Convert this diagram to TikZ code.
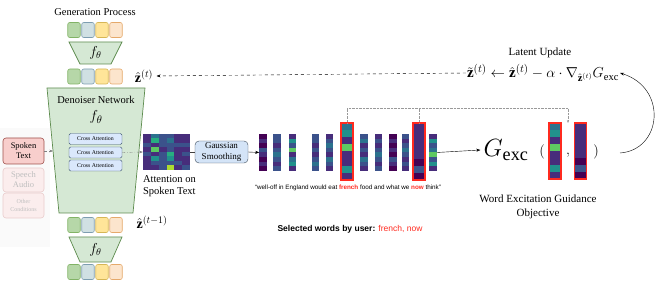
\documentclass[tikz,border=0pt]{standalone}
\usepackage{amsmath,amssymb}
\usepackage{fontspec}
\setmainfont{Liberation Serif}
\setsansfont{Liberation Sans}
\usepackage{xcolor}
\usepackage{tikz}
\usetikzlibrary{positioning, arrows.meta, calc}
\definecolor{clrG}     {HTML}{B6D7A8}
\definecolor{clrGD}    {HTML}{82B366}
\definecolor{clrB}     {HTML}{D0E0E3}
\definecolor{clrBD}    {HTML}{7D9DB0}
\definecolor{clrY}     {HTML}{FFE599}
\definecolor{clrYD}    {HTML}{D6B656}
\definecolor{clrP}     {HTML}{FCE5CD}
\definecolor{clrPD}    {HTML}{E5A96B}
\definecolor{clrTrap}  {HTML}{D5E8D4}
\definecolor{clrTrapD} {HTML}{5E8C4F}
\definecolor{clrCa}    {HTML}{DAE8FC}
\definecolor{clrCaD}   {HTML}{3F5770}
\definecolor{clrSp}    {HTML}{F8CECC}
\definecolor{clrSpD}   {HTML}{A0504C}
\definecolor{clrFade}  {HTML}{FBEDED}
\definecolor{clrFadeD} {HTML}{E9CBCB}
\definecolor{clrGs}    {HTML}{D4E4F7}
\definecolor{clrGsD}   {HTML}{3C4A5A}
\definecolor{clrRed}   {HTML}{FF2A1F}
\definecolor{vir0}{HTML}{440154}
\definecolor{vir1}{HTML}{472D7B}
\definecolor{vir2}{HTML}{3B528B}
\definecolor{vir3}{HTML}{2C728E}
\definecolor{vir4}{HTML}{21918C}
\definecolor{vir5}{HTML}{28AE80}
\definecolor{vir6}{HTML}{5EC962}
\definecolor{vir7}{HTML}{ADDC30}
\newcommand{\fsz}[2]{\fontsize{#1}{#2}\selectfont}
% name, x, y, width, height, colours top to bottom
\newcommand{\wordbar}[6]{%
  \node[inner sep=0pt, outer sep=0pt, minimum width=#4pt, minimum height=#5pt] (#1) at (#2,#3) {};
  \foreach \c [count=\k] in {#6}
    \fill[vir\c] ({#2-#4/2},{#3-#5/2+(\k-1)*#5/8}) rectangle ++(#4,#5/8);
}

\begin{document}
\begin{tikzpicture}[x=1pt, y=-1pt,
  sq/.style={rounded corners=2pt, minimum width=12.5pt, minimum height=15pt,
             inner sep=0pt, line width=0.6pt},
  trap/.style={draw=clrTrapD, fill=clrTrap, line width=0.7pt},
  cabox/.style={draw=clrCaD, fill=clrCa, rounded corners=1.5pt,
                minimum width=53pt, minimum height=11pt, inner sep=0pt,
                font=\fsz{5.8}{7}},
  cond/.style={rounded corners=3pt, minimum width=41pt, inner sep=0pt,
               align=center, line width=0.6pt},
  arr/.style={-{Stealth[length=4pt]}, thin},
  gdash/.style={dash dot, gray, -{Stealth[length=3.5pt]}, thin},
  dots/.style={densely dotted, gray!80},
  hl/.style={draw=clrRed, line width=1.1pt},
  lbl/.style={font=\fsz{10.5}{12.5}},
]
\useasboundingbox (0,0) rectangle (664,283);
\fill[black!2] (0,128) rectangle (50,247);

% generation column
\node[lbl] (gen) at (95,12) {Generation Process};
\foreach \c [count=\i] in {G,B,Y,P} {
  \node[sq, fill=clr\c, draw=clr\c D] (ra\i) at ({60+14*\i},30) {};
  \node[sq, fill=clr\c, draw=clr\c D] (rb\i) at ({60+14*\i},76.5) {};
  \node[sq, fill=clr\c, draw=clr\c D] (rc\i) at ({60+14*\i},225) {};
  \node[sq, fill=clr\c, draw=clr\c D] (rd\i) at ({60+14*\i},272) {};
}
\draw[trap] (69,42) -- (122,42) -- (111,64) -- (80,64) -- cycle;
\node[font=\fsz{14}{16}] (ft) at (95.5,53) {$f_\theta$};
\draw[trap] (69,237) -- (122,237) -- (111,262) -- (80,262) -- cycle;
\node[font=\fsz{14}{16}] (fb) at (95.5,249.5) {$f_\theta$};
\draw[trap] (47,88) -- (145,88) -- (133,213) -- (59,213) -- cycle;
\coordinate (denw) at (53,151);
\node[lbl] (dlab) at (96,100) {Denoiser Network};
\node[font=\fsz{15}{17}] (dfun) at (96,117) {$f_\theta$};
\foreach \y [count=\i] in {139,152.5,165.5}
  \node[cabox] (ca\i) at (95.5,\y) {Cross Attention};

\node[font=\fsz{14}{16}] (zt) at (144,76) {$\hat{\mathbf{z}}^{(t)}$};
\node[font=\fsz{14}{16}] (ztm) at (152,222) {$\hat{\mathbf{z}}^{(t-1)}$};

% conditions
\node[cond, draw=clrSpD, fill=clrSp, minimum height=26pt, font=\fsz{8.5}{10}]
  (spk) at (23.5,151) {Spoken\\Text};
\node[cond, draw=clrFadeD, fill=clrFade, text=black!25, minimum height=24pt,
      font=\fsz{8.5}{10}] (aud) at (23.5,180) {Speech\\Audio};
\node[cond, draw=clrFadeD, fill=clrFade, text=black!25, minimum height=25pt,
      font=\fsz{6}{7.5}] (oth) at (23.5,205.5) {Other\\Conditions};

% attention map
\node[inner sep=0pt, minimum width=47pt, minimum height=36pt] (att) at (166.5,152) {};
\foreach \row [count=\j] in {{1,3,2,2,1,1},{1,5,2,3,1,1},{2,1,2,2,2,2},{1,6,1,2,1,1},
                             {2,1,2,5,1,2},{1,4,2,4,1,1},{1,2,2,2,2,1},{1,1,2,7,1,2}}
  \foreach \c [count=\i] in \row
    \fill[vir\c] ({143+(\i-1)*47/6},{134+(\j-1)*4.5}) rectangle ++(47/6,4.5);
\node[lbl, align=left, anchor=north west, inner sep=0pt] (attl)
  at ($(att.south west)+(0,5)$) {Attention on\\Spoken Text};

\node[draw=clrGsD, fill=clrGs, rounded corners=4pt, minimum width=53pt,
      minimum height=22pt, inner sep=0pt, align=center, font=\fsz{9}{10.5}]
  (gs) at (221.5,152) {Gaussian\\Smoothing};

% word bars
\wordbar{w1}{263}{152.5}{7.5}{37}{0,1,0,2,1,0,1,0}
\wordbar{w2}{277}{152.5}{7.5}{37}{2,2,1,2,3,2,1,2}
\wordbar{w3}{292.5}{152.5}{7.5}{37}{1,4,2,6,1,3,4,1}
\wordbar{w4}{315.5}{152.5}{7.5}{37}{2,2,1,2,1,2,3,2}
\wordbar{w5}{329.5}{152.5}{7.5}{37}{1,2,3,2,1,3,2,1}
\wordbar{w6}{347}{151.5}{12}{57}{3,4,1,6,1,1,4,1}
\wordbar{w7}{364}{152.5}{7.5}{37}{2,3,1,2,1,3,2,1}
\wordbar{w8}{378.5}{152.5}{7.5}{37}{1,2,1,2,3,2,1,2}
\wordbar{w9}{393}{152.5}{7.5}{37}{0,1,0,1,0,2,1,0}
\wordbar{w10}{405.5}{152.5}{7.5}{37}{2,1,2,3,2,1,2,1}
\wordbar{w11}{419}{151.5}{12}{57}{1,1,1,1,1,0,2,0}
\wordbar{w12}{433}{152.5}{7.5}{37}{1,4,2,3,6,2,4,1}
\draw[hl] (w6.north west) rectangle (w6.south east);
\draw[hl] (w11.north west) rectangle (w11.south east);

\node[font=\sffamily\fsz{6.3}{7.5}] (sent) at (348,188)
  {``well-off in England would eat \textbf{\color{clrRed}french} food and what we \textbf{\color{clrRed}now} think''};
\node[font=\sffamily\bfseries\fsz{8.5}{10}] (sel) at (350,229)
  {Selected words by user: \mdseries\color{clrRed}french, now};

% guidance objective
\node[font=\fsz{26}{30}, inner sep=3pt] (gx) at (506,150) {$G_{\text{exc}}$};
\node[font=\fsz{14}{16}, inner sep=0pt] (lp) at (542,152) {$($};
\wordbar{g1}{555}{151}{12}{56}{3,4,1,6,1,1,4,1}
\node[font=\fsz{14}{16}, inner sep=0pt] (cm) at (568,155) {$,$};
\wordbar{g2}{580.5}{151}{12}{56}{1,1,1,1,1,0,2,0}
\node[font=\fsz{14}{16}, inner sep=0pt] (rp) at (596,152) {$)$};
\draw[hl] (g1.north west) rectangle (g1.south east);
\draw[hl] (g2.north west) rectangle (g2.south east);
\node[lbl, align=center, font=\fsz{11}{14}] (obj) at (538,207)
  {Word Excitation Guidance\\Objective};

\node[lbl, font=\fsz{11}{13}] (lat) at (540,53) {Latent Update};
\node[font=\fsz{15}{17}, inner sep=1pt] (upd) at (543,73)
  {$\tilde{\mathbf{z}}^{(t)} \leftarrow \hat{\mathbf{z}}^{(t)} - \alpha \cdot \nabla_{\hat{\mathbf{z}}^{(t)}} G_{\text{exc}}$};

% connectors
\draw[gdash] (spk.east) -- (denw);
\draw[gdash] (ca2.east) -- (att.west);
\draw[thin, black!75] (att.east) -- (gs.west);
\draw[arr] (gs.east) -- (w1.west);
\draw[arr] (w12.east) -- (gx.west);
\draw[dots, -{Stealth[length=3pt]}] (w6.north) -- ++(0,-15) -| (g1.north -| cm);
\draw[dots] (w11.north) -- ++(0,-15);
\draw[dashed, -{Stealth[length=4pt]}] (upd.west) -- (zt.east);
\coordinate (lpst) at (620,153);
\draw[arr] (lpst) .. controls (662,150) and (668,88) .. (upd.east);
\end{tikzpicture}
\end{document}
